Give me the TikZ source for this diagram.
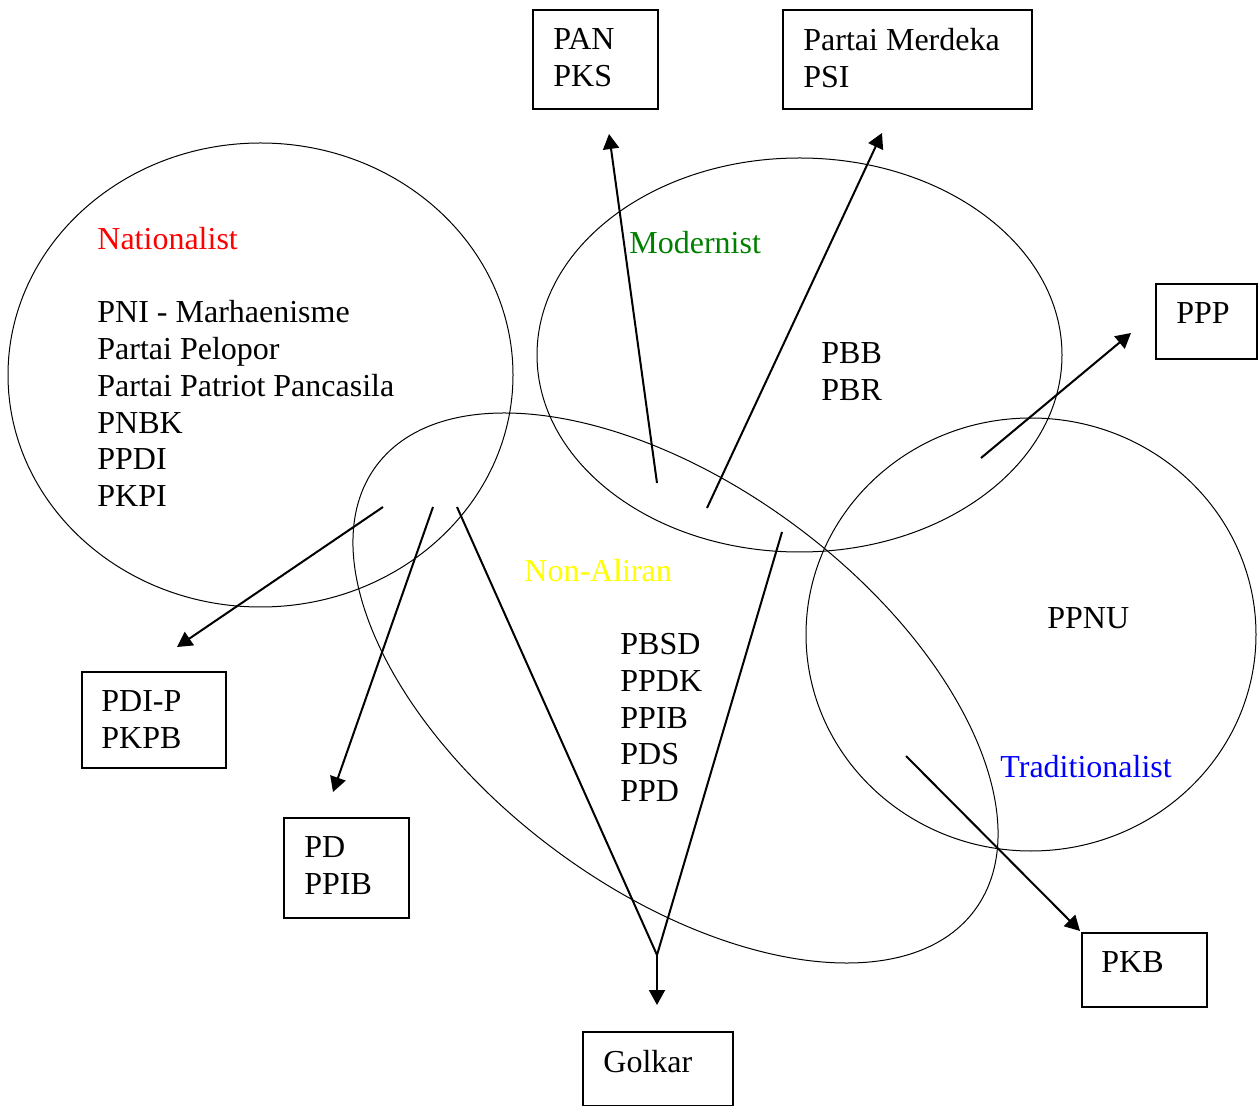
\documentclass[tikz,border=0pt]{standalone}
\usepackage{fontspec}
\setmainfont{Liberation Serif}
\usetikzlibrary{arrows.meta}

\definecolor{natred}{rgb}{1.0, 0.0, 0.0}
\definecolor{modgreen}{rgb}{0.0, 0.5, 0.0}
\definecolor{nonyellow}{rgb}{1.0, 1.0, 0.0}
\definecolor{tradblue}{rgb}{0.0, 0.0, 1.0}

\tikzset{
	txt/.style={anchor=north west,inner sep=0pt,align=left,font=\fontsize{16}{18.4}\selectfont},
	aliran/.style={line width=0.5pt},
	box/.style={draw,line width=1pt,anchor=north west,inner sep=0pt},
	arr/.style={line width=1pt,-{Triangle[length=7.5pt,width=8pt]}},
	link/.style={line width=1pt}
}

\begin{document}
\begin{tikzpicture}[x=0.5pt,y=-0.5pt]
		\useasboundingbox (0,0) rectangle (1258,1106);
		
		% the four aliran
		\draw[aliran] (260.5,375) ellipse (252.5 and 232);
		\draw[aliran] (799.5,355) ellipse (262.5 and 197);
		\draw[aliran] (1031,634.5) ellipse (225 and 216.5);
		\draw[aliran,rotate around={-36.6:(675.5,688)}] (675.5,688) ellipse (372.7 and 201.8);
		
		\node[txt,natred] (natname) at (97,227) {Nationalist};
		\node[txt] (natlist) at (97,300) {PNI - Marhaenisme\\Partai Pelopor\\Partai Patriot Pancasila\\PNBK\\PPDI\\PKPI};
		\node[txt,modgreen] (modname) at (629,231) {Modernist};
		\node[txt] (modlist) at (821,342) {PBB\\PBR};
		\node[txt,nonyellow] (nonname) at (524,559) {Non-Aliran};
		\node[txt] (nonlist) at (620,633) {PBSD\\PPDK\\PPIB\\PDS\\PPD};
		\node[txt] (tradlist) at (1047,607) {PPNU};
		\node[txt,tradblue] (tradname) at (1000,755) {Traditionalist};
		
		% parties of 2004
		\node[box,minimum width=62.5pt,minimum height=49.5pt] (pan) at (532,9) {};
		\node[box,minimum width=124.5pt,minimum height=49.5pt] (merdeka) at (782,9) {};
		\node[box,minimum width=50.5pt,minimum height=37.5pt] (ppp) at (1155,283) {};
		\node[box,minimum width=72pt,minimum height=48pt] (pdip) at (81,671) {};
		\node[box,minimum width=62.5pt,minimum height=50pt] (pd) at (283,817) {};
		\node[box,minimum width=75pt,minimum height=37pt] (golkar) at (582,1031) {};
		\node[box,minimum width=62.5pt,minimum height=37pt] (pkb) at (1081,932) {};
		
		\node[txt] (pantxt) at ([xshift=10.5pt,yshift=-9.5pt]pan.north west) {PAN\\PKS};
		\node[txt] (merdekatxt) at ([xshift=10.5pt,yshift=-9.5pt]merdeka.north west) {Partai Merdeka\\PSI};
		\node[txt] (ppptxt) at ([xshift=10.5pt,yshift=-9.5pt]ppp.north west) {PPP};
		\node[txt] (pdiptxt) at ([xshift=10pt,yshift=-9.5pt]pdip.north west) {PDI-P\\PKPB};
		\node[txt] (pdtxt) at ([xshift=10.5pt,yshift=-9.5pt]pd.north west) {PD\\PPIB};
		\node[txt] (golkartxt) at ([xshift=10.5pt,yshift=-9.5pt]golkar.north west) {Golkar};
		\node[txt] (pkbtxt) at ([xshift=10pt,yshift=-9.5pt]pkb.north west) {PKB};
		
		% arrow ends
		\coordinate (natA) at (383,507);
		\coordinate (natB) at (433,507);
		\coordinate (natC) at (457,507);
		\coordinate (modA) at (657,483);
		\coordinate (modB) at (707,508);
		\coordinate (modC) at (782,532);
		\coordinate (tradA) at (981,458);
		\coordinate (tradB) at (906,756);
		\coordinate (join) at (657,955);
		
		\coordinate (pdipT) at (177,647);
		\coordinate (pdT) at (333,792);
		\coordinate (panT) at (609,134);
		\coordinate (merdekaT) at (882,133);
		\coordinate (pppT) at (1131,333);
		\coordinate (pkbT) at (1080,931);
		\coordinate (golkarT) at (657,1005);
		
		\draw[arr] (natA) -- (pdipT);
		\draw[arr] (natB) -- (pdT);
		\draw[link] (natC) -- (join);
		\draw[link] (modC) -- (join);
		\draw[arr] (join) -- (golkarT);
		\draw[arr] (modA) -- (panT);
		\draw[arr] (modB) -- (merdekaT);
		\draw[arr] (tradA) -- (pppT);
		\draw[arr] (tradB) -- (pkbT);
		
	\end{tikzpicture}
\end{document}
